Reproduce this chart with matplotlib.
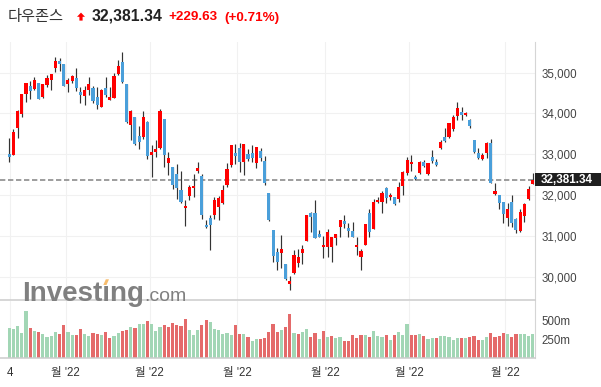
import numpy as np
import matplotlib
matplotlib.use("Agg")
import matplotlib.pyplot as plt
from matplotlib.patches import Polygon, Rectangle

# Daily OHLC (index 0 = first candle on the left)
opens = [33007, 32983, 33653, 33996, 34470, 34674, 34592, 34739, 34412, 34698,
         34829, 35123, 35286, 35213, 34731, 34805, 34862, 34535, 34437, 34567,
         34633, 34404, 34167, 34625, 34331, 34388, 34960, 35262, 34723, 33726,
         33914, 33440, 33432, 33791, 32991, 33064, 33162, 33865, 32778, 32688,
         32509, 32125, 31675, 31986, 32166, 32599, 32468, 31267, 31447, 31512,
         31716, 31798, 32247, 32737, 33024, 33162, 32819, 33007, 33040, 32795,
         33081, 32835, 32043, 31144, 30613, 30573, 30311, 29821, 30082, 30344,
         30573, 30883, 31553, 31553, 31038, 30720, 30720, 30720, 30957, 31210,
         31365, 31202, 31120, 30720, 30475, 30777, 31569, 31177, 31823, 31839,
         32166, 31945, 31945, 31896, 32223, 32533, 32754, 32452, 32550, 32811,
         32517, 32942, 32811, 33146, 33432, 33432, 33612, 33939, 34045, 33963,
         33840, 33350, 33024, 32884, 33040, 33285, 32027, 32002, 31839, 31447,
         31839, 31406, 31128, 31496, 31896, 32264]
highs = [33391, 33612, 34086, 34478, 34756, 34805, 34886, 34750, 34723, 34943,
         34968, 35376, 35352, 35213, 34862, 34935, 35107, 34657, 34682, 34903,
         34674, 34657, 34592, 34886, 34641, 34984, 35311, 35499, 34723, 34086,
         33914, 33693, 34061, 33808, 33219, 33350, 34110, 33865, 33056, 32688,
         32762, 32591, 31880, 32247, 32509, 32811, 32520, 31390, 31512, 31961,
         31978, 32247, 32778, 33219, 33244, 33269, 33252, 33122, 33220, 33187,
         33154, 32958, 32060, 31144, 30695, 31022, 30320, 30017, 30654, 30671,
         30777, 31512, 31594, 31880, 31144, 30997, 31177, 30965, 31046, 31390,
         31512, 31324, 31349, 30981, 30671, 31283, 31651, 31896, 31961, 32108,
         32206, 32043, 31961, 32329, 32600, 32925, 32983, 32492, 32844, 32860,
         32795, 33105, 32876, 33350, 33636, 33775, 33963, 34282, 34167, 34045,
         33865, 33350, 33146, 33024, 33309, 33367, 32305, 32002, 31839, 31798,
         32002, 31447, 31651, 31798, 32223, 32533]
lows = [32819, 32983, 33391, 33906, 34290, 34347, 34576, 34350, 34371, 34657,
        34576, 35025, 35050, 34682, 34535, 34756, 34551, 34265, 34208, 34453,
        34249, 34102, 34151, 34412, 34331, 34388, 34943, 34739, 33775, 33350,
        33228, 33121, 33383, 32876, 32452, 32925, 33121, 32697, 32492, 32141,
        31896, 31798, 31242, 31880, 31961, 32533, 31406, 31185, 30654, 31406,
        31390, 31774, 32200, 32697, 32754, 32574, 32492, 32844, 32819, 32656,
        32844, 32250, 31374, 30368, 30164, 30205, 29919, 29674, 30066, 30246,
        30311, 30883, 31104, 30940, 30981, 30450, 30474, 30368, 30777, 30981,
        31185, 30981, 30981, 30532, 30164, 30777, 30981, 31177, 31798, 31553,
        31798, 31880, 31757, 31823, 32002, 32492, 32599, 32380, 32517, 32697,
        32492, 32795, 32713, 33122, 33309, 33407, 33579, 33840, 33840, 33939,
        33636, 33040, 32876, 32860, 32901, 32288, 32002, 31651, 31308, 31243,
        31226, 31063, 31104, 31332, 31880, 32264]
closes = [32942, 33538, 34069, 34478, 34739, 34559, 34821, 34363, 34723, 34870,
          34968, 35286, 35213, 34682, 34821, 34919, 34633, 34461, 34576, 34723,
          34306, 34216, 34576, 34461, 34404, 34919, 35164, 34780, 33800, 34061,
          33244, 33309, 33914, 32958, 33056, 33130, 34061, 32983, 32917, 32247,
          32166, 31822, 31733, 32190, 32223, 32672, 31512, 31210, 31267, 31880,
          31921, 32125, 32639, 33219, 32958, 32819, 33252, 32893, 32917, 33171,
          32917, 32288, 31390, 30507, 30368, 30679, 29935, 29894, 30532, 30474,
          30679, 31512, 31455, 30957, 30981, 30769, 31095, 30965, 31046, 31390,
          31300, 31128, 30981, 30777, 30638, 31283, 31087, 31839, 31880, 32043,
          31921, 32002, 31782, 32190, 32574, 32860, 32803, 32386, 32803, 32713,
          32795, 32844, 32738, 33309, 33334, 33759, 33906, 34143, 33963, 34020,
          33693, 33064, 32901, 32983, 33285, 32288, 32100, 31798, 31528, 31651,
          31324, 31144, 31577, 31782, 32141, 32381]

# volume in millions, and the bar colour seen for each day (g = green, r = red)
volume = [397, 384, 428, 330, 630, 397, 361, 343, 317, 277,
          290, 344, 317, 438, 343, 303, 303, 384, 316, 290,
          330, 316, 303, 344, 263, 294, 330, 361, 375, 415,
          397, 451, 451, 496, 451, 361, 410, 437, 410, 464,
          437, 424, 518, 375, 303, 375, 437, 509, 478, 388,
          375, 316, 330, 303, 437, 316, 316, 276, 222, 254,
          254, 267, 343, 451, 343, 375, 415, 585, 330, 316,
          343, 384, 276, 330, 249, 361, 276, 289, 263, 276,
          222, 222, 303, 263, 303, 303, 276, 361, 289, 276,
          303, 236, 303, 343, 303, 451, 308, 308, 321, 290,
          249, 263, 263, 294, 294, 276, 236, 263, 263, 263,
          281, 294, 236, 236, 276, 330, 276, 294, 330, 321,
          276, 321, 321, 321, 294, 321]
vol_dir = ("gggggrgrgg" "ggrrggrrgg" "rrgrrggrrg" "rggrgggrrr" "rrrgggrrgg"
           "ggggrrgrgg" "rrrrrgrrgr" "ggrrgrgrgg" "rrrrrgrggg" "rgrgggrrgr"
           "ggrgggggrg" "rrrggrrrrg" "rrgggg")

last_price = 32381.34
change = "+229.63"
change_pct = "(+0.71%)"
price_ticks = [30000, 31000, 32000, 33000, 34000, 35000]
vol_ticks = [250, 500]
vol_tick_labels = ["250m", "500m"]
month_pos = [0.17, 13.5, 33.5, 54.5, 75.5, 95.5, 118.5]
month_labels = ["4", "월 '22", "월 '22", "월 '22", "월 '22", "월 '22", "월 '22"]

W, H = 601, 387
def fx(px):
    return px / W
def fy(py):
    return 1 - py / H

plt.rcParams['font.family'] = ['Liberation Sans', 'Noto Sans CJK KR']

fig = plt.figure(figsize=(W / 100, H / 100), dpi=100)
ax = fig.add_axes([0, fy(300), fx(535), (300 - 42) / H])
axv = fig.add_axes([0, fy(358), fx(535), (358 - 301) / H])

idx = np.arange(len(closes))
o = np.array(opens, float)
c = np.array(closes, float)
up = c >= o

# candles
ax.vlines(idx, lows, highs, color='#333333', lw=0.85, zorder=2)
ax.bar(idx, np.maximum(np.abs(c - o), 30), bottom=np.minimum(o, c), width=0.74,
       color=np.where(up, '#ff0000', '#4a9fda'), zorder=3)
ax.axhline(last_price, color='#8c8c8c', lw=1.2, ls=(0, (3.2, 1.6)), zorder=1.5)

ax.set_xlim(-2.22, 125.55)
ax.set_ylim(29429, 35752)
ax.set_yticks(price_ticks)
ax.set_yticklabels([f"{v:,}" for v in price_ticks])
ax.yaxis.tick_right()
ax.tick_params(axis='y', length=0, pad=4.5, labelsize=8.3, labelcolor='#444444')
ax.set_xticks(month_pos)
ax.tick_params(axis='x', length=0, labelbottom=False)
ax.grid(color='#f1f1f1', lw=0.8)
ax.set_axisbelow(True)

# volume
vcol = ['#a2d6b5' if d == 'g' else '#e46a6a' for d in vol_dir]
axv.bar(idx, volume, width=0.76, color=vcol, zorder=2)
axv.set_xlim(-2.22, 125.55)
axv.set_ylim(0, 765)
axv.set_yticks(vol_ticks)
axv.set_yticklabels(vol_tick_labels)
axv.yaxis.tick_right()
axv.tick_params(axis='y', length=0, pad=4.5, labelsize=8.3, labelcolor='#444444')
axv.set_xticks(month_pos)
axv.set_xticklabels(month_labels)
axv.tick_params(axis='x', length=0, pad=6.5, labelsize=8.3, labelcolor='#333333')
axv.get_xticklabels()[0].set_x(0.8)
axv.grid(axis='x', color='#f1f1f1', lw=0.8)
axv.set_axisbelow(True)

for a in (ax, axv):
    a.spines['top'].set_visible(False)
    a.spines['left'].set_visible(False)
    a.spines['right'].set_color('#d5d5d5')
    a.spines['bottom'].set_color('#cccccc')
    a.spines['bottom'].set_linewidth(1.1)

# last price tag on the right axis
fig.canvas.draw()
disp = ax.transData.transform((0, last_price))
yf = fig.transFigure.inverted().transform(disp)[1]
fig.patches.append(Rectangle((fx(535), yf - 6.6 / H), fx(66), 13.2 / H,
                             transform=fig.transFigure, fc='#1f1f1f', ec='none'))
fig.text(fx(541), yf, f"{last_price:,.2f}", va='center', ha='left', color='white',
         fontsize=8.4, fontweight='bold')

# header
fig.text(fx(8), fy(20.5), "다우존스", fontsize=11, color='#333333',
         family='Noto Sans CJK KR', va='baseline')
arrow = [(77, 16.8), (81, 12.6), (85, 16.8), (82.6, 16.8), (82.6, 20.6),
         (79.4, 20.6), (79.4, 16.8)]
fig.patches.append(Polygon([(fx(x), fy(y)) for x, y in arrow], closed=True,
                           transform=fig.transFigure, fc='#ff0000', ec='none'))
fig.text(fx(92), fy(20.7), f"{last_price:,.2f}", fontsize=11.3, fontweight='bold',
         color='#222222', va='baseline')
fig.text(fx(168), fy(20.5), change, fontsize=9.7, fontweight='bold',
         color='#ff0000', va='baseline')
fig.text(fx(224), fy(20.5), change_pct, fontsize=9.7, fontweight='bold',
         color='#ff0000', va='baseline')

# watermark
fig.text(fx(22), fy(301), "Investıng", fontsize=20, fontweight='bold',
         color='#808080', va='baseline', zorder=10)
fig.text(fx(144), fy(301), ".com", fontsize=14, color='#808080',
         va='baseline', zorder=10)
dot = [(103.3, 285), (106.5, 285), (109, 279.3), (105.8, 279.3)]
fig.patches.append(Polygon([(fx(x), fy(y)) for x, y in dot], closed=True,
                           transform=fig.transFigure, fc='#f7bd6d', ec='none',
                           zorder=11))

fig.savefig("out.png", dpi=100, facecolor='white')
